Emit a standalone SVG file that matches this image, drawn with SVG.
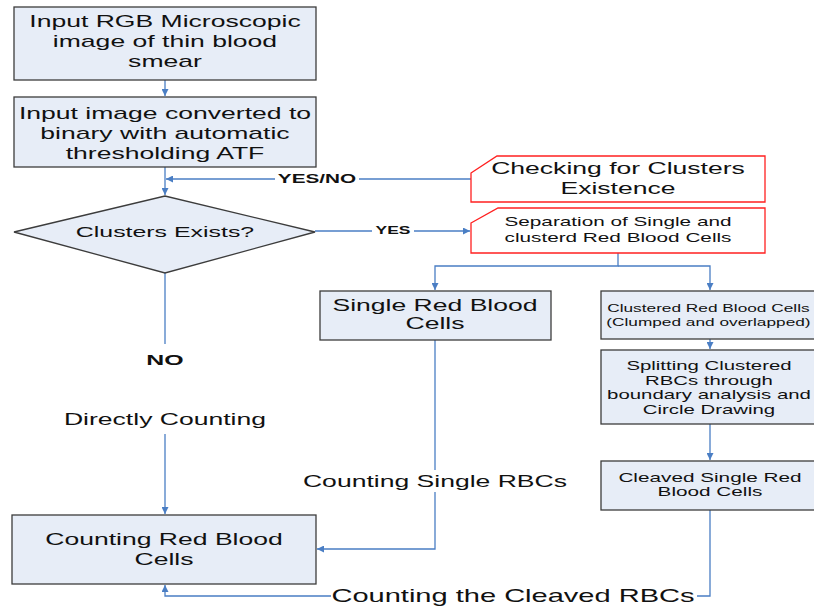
<svg xmlns="http://www.w3.org/2000/svg" width="814" height="608" viewBox="0 0 814 608">
<style>
.box{fill:#e7edf7;stroke:#3c3c3c;stroke-width:1.3}
.call{fill:#ffffff;stroke:#ff2020;stroke-width:1.3}
.con{fill:none;stroke:#4a7ec4;stroke-width:1.3}
.t{font-family:"Liberation Sans",Arial,sans-serif;fill:#111;text-anchor:middle}
.b{font-weight:bold}
</style>
<defs>
<marker id="ah" viewBox="0 0 10 10" refX="10" refY="5" markerWidth="7" markerHeight="7" markerUnits="userSpaceOnUse" orient="auto">
<path d="M0,0 L10,5 L0,10 Z" fill="#4a7ec4"/>
</marker>
</defs>
<rect width="814" height="608" fill="#ffffff"/>

<g id="connectors">
<line class="con" x1="165" y1="80" x2="165" y2="96" marker-end="url(#ah)"/>
<line class="con" x1="165" y1="167" x2="165" y2="195" marker-end="url(#ah)"/>
<line class="con" x1="471" y1="179" x2="359" y2="179"/>
<line class="con" x1="275" y1="179" x2="166" y2="179" marker-end="url(#ah)"/>
<line class="con" x1="315" y1="231" x2="372" y2="231"/>
<line class="con" x1="414" y1="231" x2="470" y2="231" marker-end="url(#ah)"/>
<polyline class="con" points="618,253 618,266 435,266 435,290" marker-end="url(#ah)"/>
<polyline class="con" points="618,266 710,266 710,290" marker-end="url(#ah)"/>
<line class="con" x1="710" y1="339" x2="710" y2="349" marker-end="url(#ah)"/>
<line class="con" x1="710" y1="424" x2="710" y2="460" marker-end="url(#ah)"/>
<line class="con" x1="165" y1="273" x2="165" y2="344"/>
<line class="con" x1="165" y1="434" x2="165" y2="514" marker-end="url(#ah)"/>
<line class="con" x1="435" y1="340" x2="435" y2="470"/>
<polyline class="con" points="435,492 435,549 317,549" marker-end="url(#ah)"/>
<polyline class="con" points="710,510 710,596 697,596"/>
<polyline class="con" points="331,596 165,596 165,585" marker-end="url(#ah)"/>
<text class="t b" font-size="12.5" transform="matrix(1.66 0 0 1 -209.22 0)" x="317" y="183.5">YES/NO</text>
<text class="t b" font-size="10.5" transform="matrix(1.66 0 0 1 -259.38 0)" x="393" y="234.5">YES</text>
<text class="t b" font-size="15" transform="matrix(1.66 0 0 1 -108.9 0)" x="165" y="365">NO</text>
<text class="t" font-size="16" transform="matrix(1.66 0 0 1 -108.9 0)" x="165" y="425">Directly Counting</text>
<text class="t" font-size="16" transform="matrix(1.66 0 0 1 -287.1 0)" x="435" y="487">Counting Single RBCs</text>
<text class="t" font-size="17.5" transform="matrix(1.66 0 0 1 -338.58 0)" x="513" y="602">Counting the Cleaved RBCs</text>
</g>

<g id="input-rgb">
<rect class="box" x="14" y="7" width="302" height="73"/>
<text class="t" font-size="16" transform="matrix(1.66 0 0 1 -108.9 0)" x="165" y="27"><tspan x="165">Input RGB Microscopic</tspan><tspan x="165" dy="20">image of thin blood</tspan><tspan x="165" dy="20">smear</tspan></text>
</g>

<g id="binary">
<rect class="box" x="14" y="97" width="302" height="70"/>
<text class="t" font-size="16" transform="matrix(1.66 0 0 1 -108.9 0)" x="165" y="119"><tspan x="165">Input image converted to</tspan><tspan x="165" dy="20">binary with automatic</tspan><tspan x="165" dy="20">thresholding ATF</tspan></text>
</g>

<g id="clusters-exists">
<polygon class="box" points="14,232 165,196 315,232 165,273"/>
<text class="t" font-size="15" transform="matrix(1.66 0 0 1 -108.9 0)" x="165" y="237">Clusters Exists?</text>
</g>

<g id="checking">
<path class="call" d="M471,173 L497,156 L765,156 L765,202 L471,202 Z"/>
<text class="t" font-size="16" transform="matrix(1.66 0 0 1 -407.88 0)" x="618" y="174"><tspan x="618">Checking for Clusters</tspan><tspan x="618" dy="20">Existence</tspan></text>
</g>

<g id="separation">
<path class="call" d="M471,223 L498,208 L765,208 L765,253 L471,253 Z"/>
<text class="t" font-size="12.5" transform="matrix(1.66 0 0 1 -407.88 0)" x="618" y="226.5"><tspan x="618">Separation of Single and</tspan><tspan x="618" dy="16">clusterd Red Blood Cells</tspan></text>
</g>

<g id="single">
<rect class="box" x="320" y="291" width="231" height="49"/>
<text class="t" font-size="16" transform="matrix(1.66 0 0 1 -287.1 0)" x="435" y="311"><tspan x="435">Single Red Blood</tspan><tspan x="435" dy="18.5">Cells</tspan></text>
</g>

<g id="clustered">
<rect class="box" x="601" y="291" width="218" height="48"/>
<text class="t" font-size="11" transform="matrix(1.57 0 0 1 -404.7 0)" x="709" y="312"><tspan x="709">Clustered Red Blood Cells</tspan><tspan x="709" dy="14">(Clumped and overlapped)</tspan></text>
</g>

<g id="splitting">
<rect class="box" x="601" y="350" width="218" height="74"/>
<text class="t" font-size="12.5" transform="matrix(1.63 0 0 1 -446.67 0)" x="709" y="370"><tspan x="709">Splitting Clustered</tspan><tspan x="709" dy="14.6">RBCs through</tspan><tspan x="709" dy="14.6">boundary analysis and</tspan><tspan x="709" dy="14.6">Circle Drawing</tspan></text>
</g>

<g id="cleaved">
<rect class="box" x="601" y="461" width="218" height="49"/>
<text class="t" font-size="12.5" transform="matrix(1.66 0 0 1 -468.6 0)" x="710" y="482"><tspan x="710">Cleaved Single Red</tspan><tspan x="710" dy="14">Blood Cells</tspan></text>
</g>

<g id="counting">
<rect class="box" x="12" y="515" width="304" height="69"/>
<text class="t" font-size="16" transform="matrix(1.66 0 0 1 -108.24 0)" x="164" y="545"><tspan x="164">Counting Red Blood</tspan><tspan x="164" dy="20">Cells</tspan></text>
</g>
</svg>
